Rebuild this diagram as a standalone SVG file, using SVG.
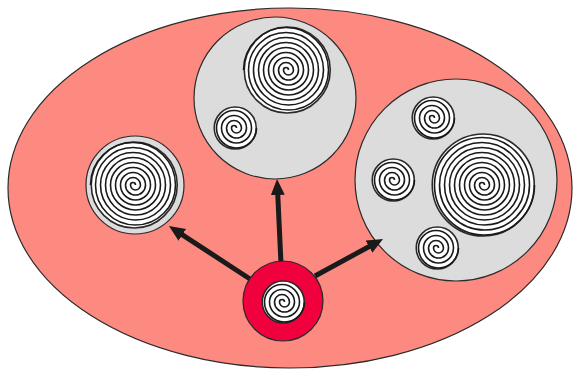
<svg xmlns="http://www.w3.org/2000/svg" xmlns:xlink="http://www.w3.org/1999/xlink" width="574" height="371" viewBox="0 0 574 371">
<style>
.grp{fill:#dddcdc;stroke:#2a2a2a;stroke-width:1.2}
.spd{fill:#ffffff;stroke:#2a2a2a;stroke-width:1.6}
.spl{fill:none;stroke:#1a1a1a;stroke-width:1.6}
.arr{stroke:#1a1a1a;stroke-width:5;fill:none;marker-end:url(#ah)}
</style>
<defs>
<marker id="ah" markerUnits="userSpaceOnUse" markerWidth="18" markerHeight="16" refX="4" refY="7" orient="auto" viewBox="0 0 18 16">
<path d="M0,0 L16,7 L0,14 z" fill="#1a1a1a"/>
</marker>
<g id="sp8">
<circle cx="1.25" cy="0" r="21" class="spd"/>
<path class="spl" d="M2.5,0 a2.5,2.5 0 0 0 -5,0 a5,5 0 0 0 10,0 a7.5,7.5 0 0 0 -15,0 a10,10 0 0 0 20,0 a12.5,12.5 0 0 0 -25,0 a15,15 0 0 0 30,0 a17.5,17.5 0 0 0 -35,0 a20,20 0 0 0 40,0"/>
</g>
<g id="sp17">
<circle cx="1.25" cy="0" r="43" class="spd"/>
<path class="spl" d="M2.5,0 a2.5,2.5 0 0 0 -5,0 a5,5 0 0 0 10,0 a7.5,7.5 0 0 0 -15,0 a10,10 0 0 0 20,0 a12.5,12.5 0 0 0 -25,0 a15,15 0 0 0 30,0 a17.5,17.5 0 0 0 -35,0 a20,20 0 0 0 40,0 a22.5,22.5 0 0 0 -45,0 a25,25 0 0 0 50,0 a27.5,27.5 0 0 0 -55,0 a30,30 0 0 0 60,0 a32.5,32.5 0 0 0 -65,0 a35,35 0 0 0 70,0 a37.5,37.5 0 0 0 -75,0 a40,40 0 0 0 80,0 a42.5,42.5 0 0 0 -85,0"/>
</g>
<g id="sp20">
<circle cx="1.25" cy="0" r="51" class="spd"/>
<path class="spl" d="M2.5,0 a2.5,2.5 0 0 0 -5,0 a5,5 0 0 0 10,0 a7.5,7.5 0 0 0 -15,0 a10,10 0 0 0 20,0 a12.5,12.5 0 0 0 -25,0 a15,15 0 0 0 30,0 a17.5,17.5 0 0 0 -35,0 a20,20 0 0 0 40,0 a22.5,22.5 0 0 0 -45,0 a25,25 0 0 0 50,0 a27.5,27.5 0 0 0 -55,0 a30,30 0 0 0 60,0 a32.5,32.5 0 0 0 -65,0 a35,35 0 0 0 70,0 a37.5,37.5 0 0 0 -75,0 a40,40 0 0 0 80,0 a42.5,42.5 0 0 0 -85,0 a45,45 0 0 0 90,0 a47.5,47.5 0 0 0 -95,0 a50,50 0 0 0 100,0"/>
</g>
</defs>
<g id="outer">
<ellipse cx="290" cy="188" rx="282" ry="180" fill="#fd8a80" stroke="#2a2a2a" stroke-width="1.2"/>
</g>
<g id="node-left">
<circle cx="135" cy="185" r="49" class="grp"/>
<use xlink:href="#sp17" x="133" y="185"/>
</g>
<g id="node-top">
<circle cx="275" cy="98" r="81" class="grp"/>
<use xlink:href="#sp17" x="286" y="70"/>
<use xlink:href="#sp8" x="234" y="128"/>
</g>
<g id="node-right">
<circle cx="456" cy="180" r="101" class="grp"/>
<use xlink:href="#sp20" x="482" y="185"/>
<use xlink:href="#sp8" x="432" y="118"/>
<use xlink:href="#sp8" x="392" y="180"/>
<use xlink:href="#sp8" x="436" y="248"/>
</g>
<g id="connectors">
<line class="arr" x1="250" y1="279" x2="179" y2="232.6"/>
<line class="arr" x1="281" y1="264" x2="277.6" y2="191"/>
<line class="arr" x1="315" y1="276" x2="372.5" y2="244.7"/>
</g>
<g id="node-source">
<circle cx="283" cy="301" r="40" fill="#f0003c" stroke="#2a2a2a" stroke-width="1.2"/>
<use xlink:href="#sp8" x="282" y="302"/>
</g>
</svg>
